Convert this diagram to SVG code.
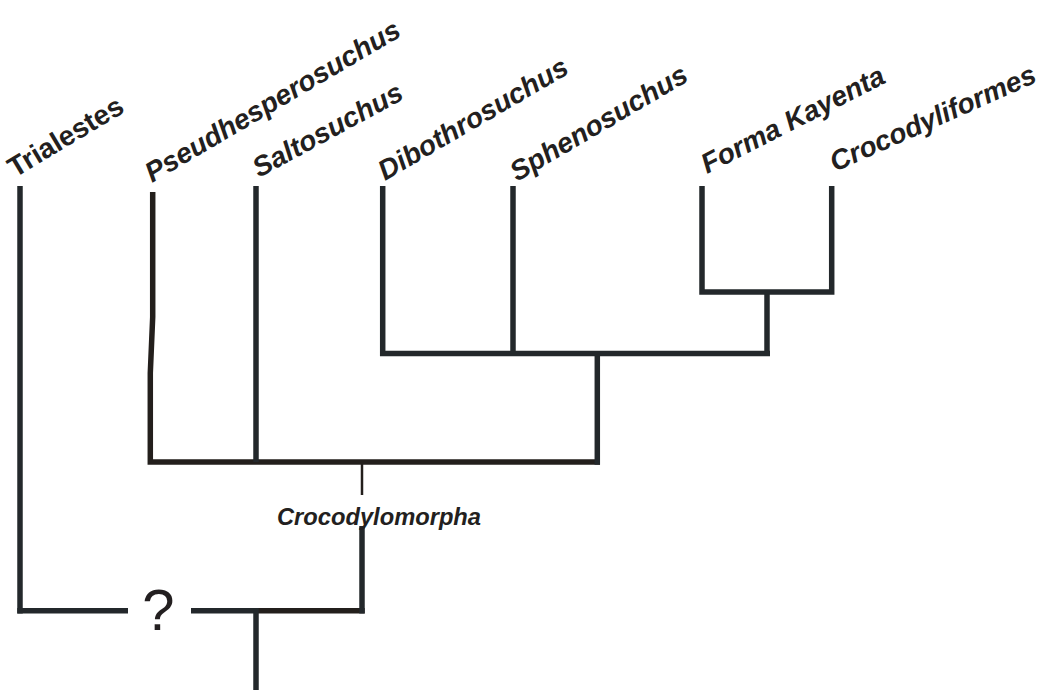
<svg xmlns="http://www.w3.org/2000/svg" width="1043" height="690" viewBox="0 0 1043 690">
<style>
.br{fill:none;stroke:#23282b;stroke-width:5.5;stroke-linecap:butt;stroke-linejoin:miter}
.bk{fill:none;stroke:#231f1c;stroke-width:5.5;stroke-linejoin:miter}
.thin{fill:none;stroke:#231f1c;stroke-width:2.5}
.tip{font-family:"Liberation Sans",Arial,sans-serif;font-weight:bold;font-style:italic;font-size:28px;fill:#231f20}
.up{font-style:normal}
.clade{font-family:"Liberation Sans",Arial,sans-serif;font-weight:bold;font-style:italic;font-size:23px;fill:#231f20}
.q{font-family:"Liberation Sans",Arial,sans-serif;font-size:58px;fill:#231f20}
</style>
<rect width="1043" height="690" fill="#ffffff"/>
<g id="connectors">
  <line class="br" x1="20" y1="186" x2="20" y2="613.5"/>
  <line class="br" x1="17.3" y1="610.7" x2="128" y2="610.7"/>
  <line class="br" x1="191" y1="610.7" x2="256" y2="610.7"/>
  <line class="bk" x1="256" y1="610.7" x2="364.7" y2="610.7"/>
  <line class="br" x1="256" y1="608" x2="256" y2="690"/>
  <line class="br" x1="362" y1="526" x2="362" y2="613.5"/>
  <line class="thin" x1="362" y1="462" x2="362" y2="495"/>
  <polyline class="bk" points="152.7,192 152.7,317 150.3,373 150.3,462 256,462"/>
  <line class="bk" x1="256" y1="462" x2="600" y2="462"/>
  <line class="br" x1="256" y1="186" x2="256" y2="462"/>
  <line class="br" x1="597.3" y1="353.5" x2="597.3" y2="464.7"/>
  <polyline class="br" points="382.7,186 382.7,353.5 770,353.5"/>
  <line class="br" x1="513" y1="186" x2="513" y2="353.5"/>
  <line class="br" x1="767" y1="292" x2="767" y2="356"/>
  <polyline class="br" points="702,186 702,292 831.7,292 831.7,186"/>
</g>
<g id="n-trialestes"><text class="tip up" transform="translate(15,178) rotate(-31)">Trialestes</text></g>
<g id="n-pseudhesperosuchus"><text class="tip" transform="translate(152,183) rotate(-30.5)">Pseudhesperosuchus</text></g>
<g id="n-saltosuchus"><text class="tip" transform="translate(259,178) rotate(-28.6)">Saltosuchus</text></g>
<g id="n-dibothrosuchus"><text class="tip" transform="translate(385,181) rotate(-30.3)">Dibothrosuchus</text></g>
<g id="n-sphenosuchus"><text class="tip" transform="translate(517,182) rotate(-30.5)">Sphenosuchus</text></g>
<g id="n-forma-kayenta"><text class="tip" transform="translate(707,174) rotate(-27)">Forma Kayenta</text></g>
<g id="n-crocodyliformes"><text class="tip" transform="translate(835,172) rotate(-24)">Crocodyliformes</text></g>
<g id="n-crocodylomorpha"><text class="clade" x="277" y="525" textLength="204" lengthAdjust="spacingAndGlyphs">Crocodylomorpha</text></g>
<g id="n-unknown"><text class="q" x="158.5" y="630" text-anchor="middle">?</text></g>
</svg>
